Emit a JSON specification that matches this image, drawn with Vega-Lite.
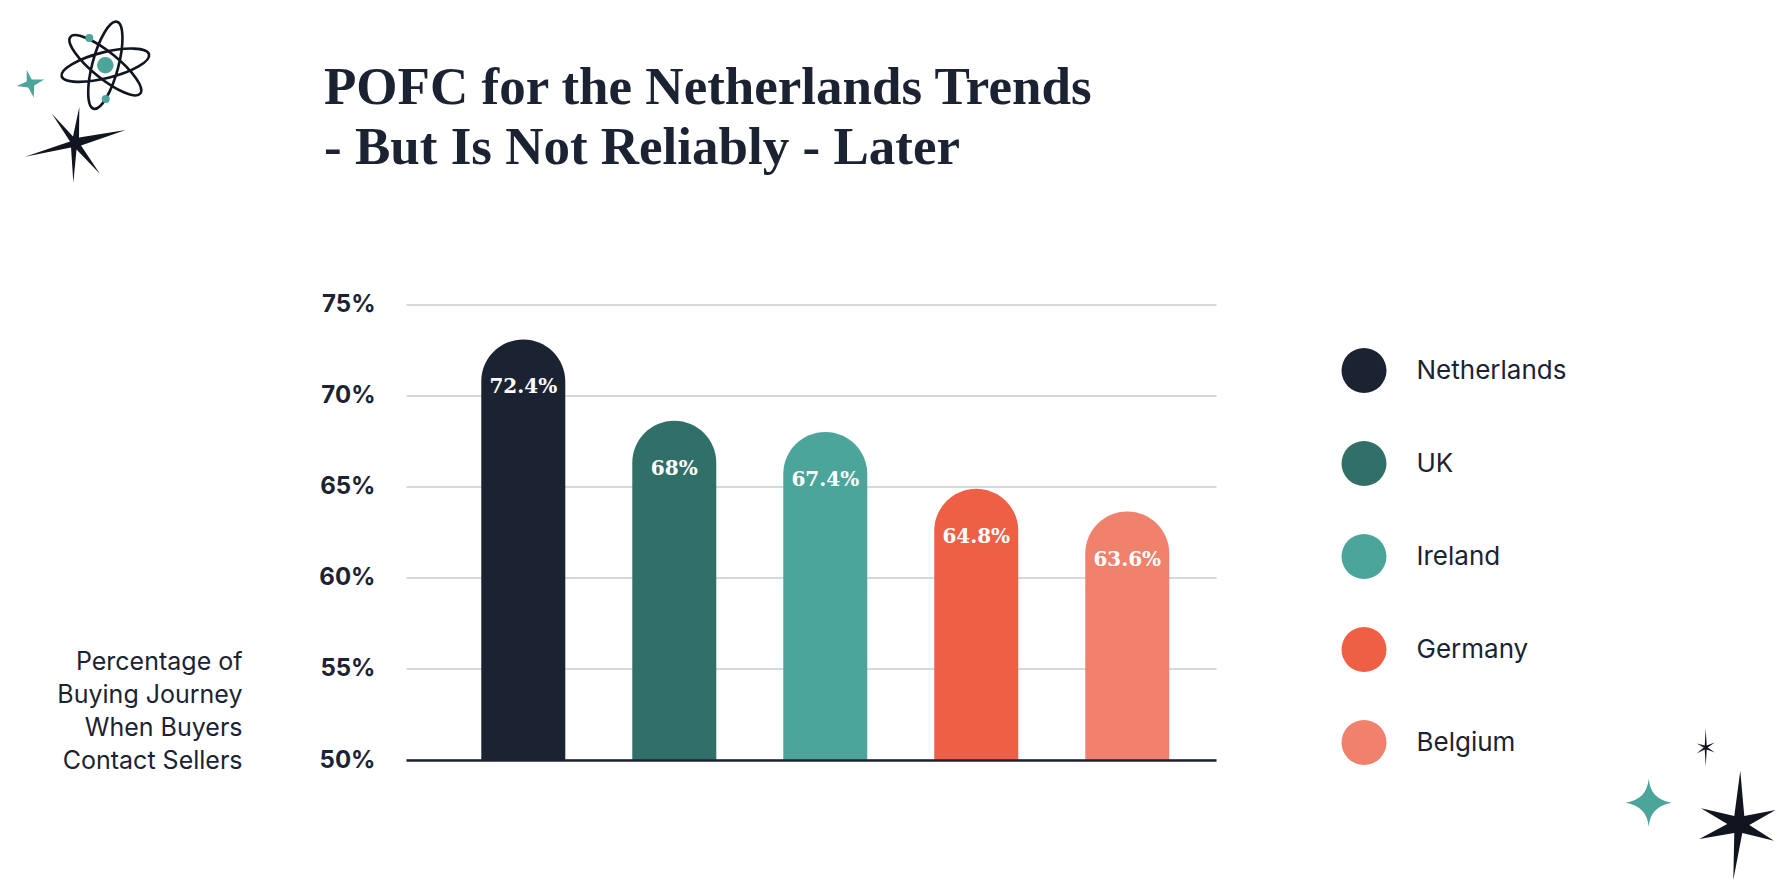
{
  "$schema": "https://vega.github.io/schema/vega-lite/v6.json",
  "autosize": {"type": "none"},
  "padding": {"left": 406, "top": 304.6, "right": 566, "bottom": 126},
  "width": 810,
  "height": 455.4,
  "background": "white",
  "config": {"view": {"stroke": null}},
  "title": {
    "text": ["POFC for the Netherlands Trends", "- But Is Not Reliably - Later"],
    "anchor": "start",
    "frame": "group",
    "font": "Liberation Serif",
    "fontWeight": "bold",
    "fontSize": 53,
    "lineHeight": 60,
    "color": "#1B2333",
    "dx": -82,
    "dy": 163
  },
  "resolve": {"scale": {"x": "independent"}},
  "layer": [
    {
      "data": {
        "values": [
          {"country": "Netherlands", "share": 72.4, "barTop": 73.09, "label": "72.4%"},
          {"country": "UK", "share": 68, "barTop": 68.62, "label": "68%"},
          {"country": "Ireland", "share": 67.4, "barTop": 68.01, "label": "67.4%"},
          {"country": "Germany", "share": 64.8, "barTop": 64.89, "label": "64.8%"},
          {"country": "Belgium", "share": 63.6, "barTop": 63.64, "label": "63.6%"}
        ]
      },
      "encoding": {
        "x": {
          "field": "country",
          "type": "nominal",
          "sort": null,
          "scale": {"type": "band", "paddingInner": 0.4437, "paddingOuter": 0.404, "align": 0.617},
          "axis": {"title": null, "labels": false, "ticks": false, "domainColor": "#1B2333", "domainWidth": 2.5, "zindex": 1}
        }
      },
      "layer": [
        {
          "mark": {"type": "bar", "cornerRadiusTopLeft": 42, "cornerRadiusTopRight": 42},
          "encoding": {
            "y": {
              "field": "barTop",
              "type": "quantitative",
              "scale": {"domain": [50, 75], "range": [455.4, 0], "zero": false, "nice": false},
              "axis": {
                "values": [50, 55, 60, 65, 70, 75],
                "labelExpr": "datum.value + '%'",
                "labelFont": "Inter",
                "labelFontWeight": "bold",
                "labelFontSize": 24,
                "labelColor": "#1B2333",
                "labelPadding": 31,
                "domain": false,
                "ticks": false,
                "grid": true,
                "gridColor": "#C8CDD0",
                "gridWidth": 1.5,
                "title": ["Percentage of", "Buying Journey", "When Buyers", "Contact Sellers"],
                "titleFont": "Inter",
                "titleFontWeight": "normal",
                "titleFontSize": 25,
                "titleColor": "#1B2333",
                "titleLineHeight": 33,
                "titleAngle": 0,
                "titleAlign": "right",
                "titleBaseline": "alphabetic",
                "titleX": -164,
                "titleY": 365
              }
            },
            "y2": {"datum": 50},
            "color": {
              "field": "country",
              "type": "nominal",
              "scale": {
                "domain": ["Netherlands", "UK", "Ireland", "Germany", "Belgium"],
                "range": ["#1B2333", "#317069", "#4BA59B", "#EF5F46", "#F0816D"]
              },
              "legend": {
                "title": null,
                "orient": "none",
                "legendX": 935.5,
                "legendY": 43.4,
                "symbolType": "circle",
                "symbolSize": 2025,
                "symbolStrokeWidth": 0,
                "rowPadding": 48,
                "labelOffset": 30,
                "labelFont": "Inter",
                "labelFontSize": 26,
                "labelColor": "#1B2333"
              }
            }
          }
        },
        {
          "mark": {"type": "text", "font": "DejaVu Serif", "fontWeight": "bold", "fontSize": 20, "color": "white", "dy": 48},
          "encoding": {
            "y": {"field": "barTop", "type": "quantitative"},
            "text": {"field": "label"}
          }
        }
      ]
    },
    {
      "data": {"values": [{"ornament": "decor"}]},
      "layer": [
        {
          "mark": {"type": "point", "filled": false, "stroke": "#11151F", "strokeWidth": 2.6, "size": 4, "opacity": 1,
            "shape": "M-43.7 10.9A45 13 -14 1 1 43.7 -10.9A45 13 -14 1 1 -43.7 10.9ZM-35 -28.3A45 13 39 1 1 35 28.3A45 13 39 1 1 -35 -28.3ZM-11.6 43.5A45 13 -75 1 1 11.6 -43.5A45 13 -75 1 1 -11.6 43.5Z"},
          "encoding": {
            "x": {"datum": -0.3712, "type": "quantitative", "scale": {"domain": [0, 1], "range": [0, 810]}, "axis": null},
            "y": {"datum": 88.14, "type": "quantitative"}
          }
        },
        {
          "mark": {"type": "point", "filled": true, "fill": "#4BA59B", "size": 275, "shape": "circle", "opacity": 1},
          "encoding": {
            "x": {"datum": -0.3712, "type": "quantitative"},
            "y": {"datum": 88.14, "type": "quantitative"}
          }
        },
        {
          "mark": {"type": "point", "filled": true, "fill": "#4BA59B", "size": 64, "shape": "circle", "opacity": 1},
          "encoding": {
            "x": {"datum": -0.391, "type": "quantitative"},
            "y": {"datum": 89.64, "type": "quantitative"}
          }
        },
        {
          "mark": {"type": "point", "filled": true, "fill": "#4BA59B", "size": 64, "shape": "circle", "opacity": 1},
          "encoding": {
            "x": {"datum": -0.3707, "type": "quantitative"},
            "y": {"datum": 86.28, "type": "quantitative"}
          }
        },
        {
          "mark": {"type": "point", "filled": true, "fill": "#4BA59B", "size": 4, "opacity": 1,
            "shape": "M-4 -13.5L1 -4L13.5 -4L3.5 2L3 14L-2.5 4L-14 2.5L-4 -2Z"},
          "encoding": {
            "x": {"datum": -0.4633, "type": "quantitative"},
            "y": {"datum": 87.14, "type": "quantitative"}
          }
        },
        {
          "mark": {"type": "point", "filled": true, "fill": "#11151F", "size": 4, "opacity": 1,
            "shape": "M4.3 -36.7L4 -6L50.7 -13.3L6 2L25 30.7L1.5 6L-1.7 39.3L-4 4L-50 13.3L-5 -2L-23.3 -30L-2 -7Z"},
          "encoding": {
            "x": {"datum": -0.4086, "type": "quantitative"},
            "y": {"datum": 83.85, "type": "quantitative"}
          }
        },
        {
          "mark": {"type": "point", "filled": true, "fill": "#4BA59B", "size": 4, "opacity": 1,
            "shape": "M0 -24C1.5 -10 8 -3 23 0C8 3 1.5 10 0 24C-1.5 10 -8 3 -23 0C-8 -3 -1.5 -10 0 -24Z"},
          "encoding": {
            "x": {"datum": 1.5342, "type": "quantitative"},
            "y": {"datum": 47.66, "type": "quantitative"}
          }
        },
        {
          "mark": {"type": "point", "filled": true, "fill": "#11151F", "size": 4, "opacity": 1,
            "shape": "M0 -19L1 -2L9 -5L2 0L9 5L1 2L0 19L-1 2L-9 6L-2 0L-9 -4L-1 -2Z"},
          "encoding": {
            "x": {"datum": 1.6046, "type": "quantitative"},
            "y": {"datum": 50.68, "type": "quantitative"}
          }
        },
        {
          "mark": {"type": "point", "filled": true, "fill": "#11151F", "size": 4, "opacity": 1,
            "shape": "M2 -53.3L6 -8L37.3 -14L11 1L35.7 16.7L4 9L-5 56L-4 9L-39 15L-11 0L-37.3 -15.7L-4 -8Z"},
          "encoding": {
            "x": {"datum": 1.6448, "type": "quantitative"},
            "y": {"datum": 46.49, "type": "quantitative"}
          }
        }
      ]
    }
  ]
}
